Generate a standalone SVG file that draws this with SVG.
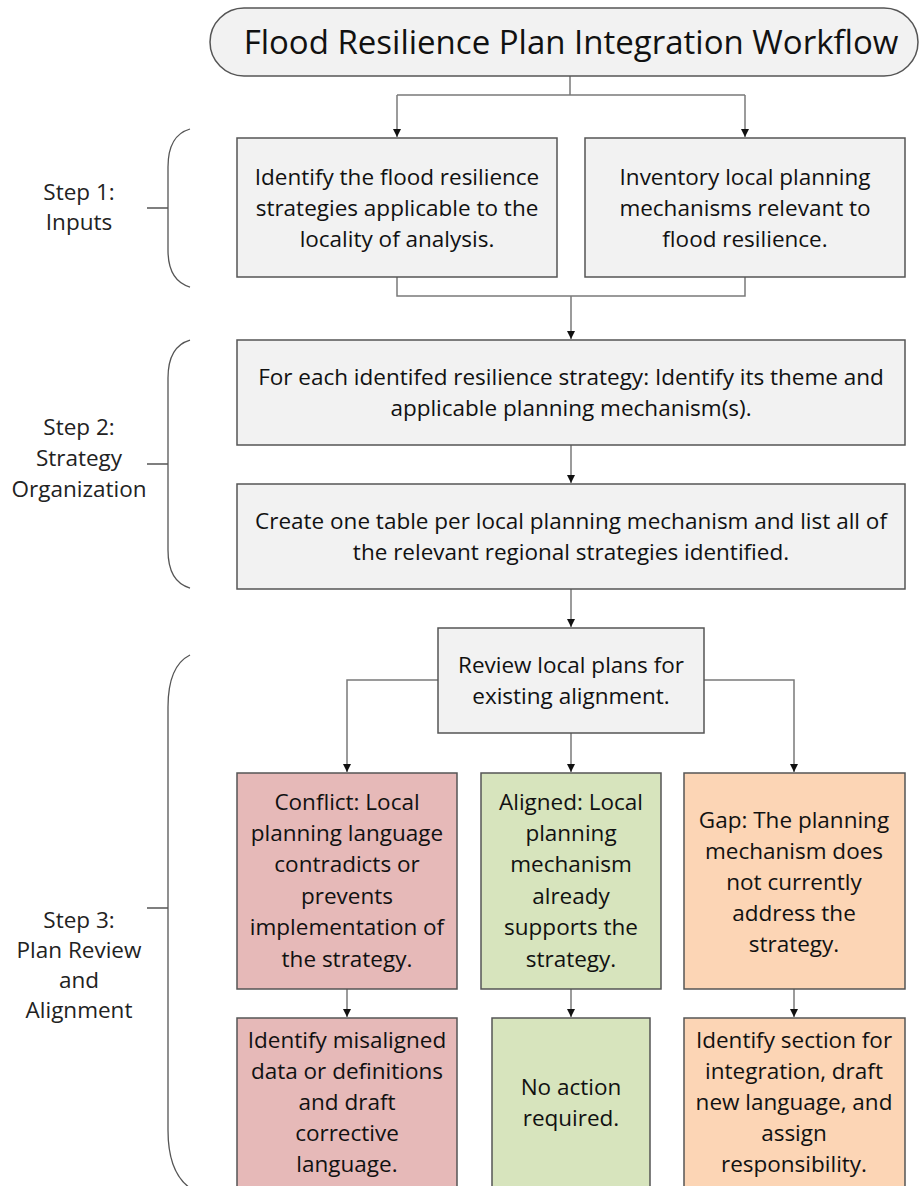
<svg xmlns="http://www.w3.org/2000/svg" width="919" height="1186" viewBox="0 0 919 1186">
<style>
.box{stroke:#555555;stroke-width:1.5}
.g{fill:#f2f2f2}
.red{fill:#e6b9b8}
.green{fill:#d7e4bd}
.orange{fill:#fcd5b5}
text{font-family:"Open Sans","DejaVu Sans",sans-serif;fill:#111111;text-anchor:middle}
.t{font-size:22.5px}
.title{font-size:33px}
.step{font-size:22.5px;fill:#222222}
.con{fill:none;stroke:#7a7a7a;stroke-width:1.5}
.br{fill:none;stroke:#555555;stroke-width:1.3}
</style>
<defs>
<marker id="ah" markerUnits="userSpaceOnUse" markerWidth="9" markerHeight="9" refX="8" refY="4" orient="auto">
<path d="M0,0 L8,4 L0,8 z" fill="#111111"/>
</marker>
</defs>
<g id="connectors">
<path class="con" d="M570,76 V95 M397,95 H745"/>
<path class="con" d="M397,95 V137" marker-end="url(#ah)"/>
<path class="con" d="M745,95 V137" marker-end="url(#ah)"/>
<path class="con" d="M397,277 V296 H745 V277"/>
<path class="con" d="M571,296 V339" marker-end="url(#ah)"/>
<path class="con" d="M571,445 V483" marker-end="url(#ah)"/>
<path class="con" d="M571,589 V627" marker-end="url(#ah)"/>
<path class="con" d="M438,680 H347 V772" marker-end="url(#ah)"/>
<path class="con" d="M704,680 H794 V772" marker-end="url(#ah)"/>
<path class="con" d="M571,733 V772" marker-end="url(#ah)"/>
<path class="con" d="M347,989 V1017" marker-end="url(#ah)"/>
<path class="con" d="M571,989 V1017" marker-end="url(#ah)"/>
<path class="con" d="M794,989 V1017" marker-end="url(#ah)"/>
</g>
<g id="title">
<rect class="box g" x="210" y="8" width="708" height="68" rx="34"/>
<text class="title" x="571" y="54">Flood Resilience Plan Integration Workflow</text>
</g>
<g id="step1">
<path class="br" d="M190,129 C176,133 168,145 168,167 V250 C168,272 176,283 190,287 M147,208 H168"/>
<text class="step" x="79" y="200">Step 1:</text>
<text class="step" x="79" y="230">Inputs</text>
</g>
<g id="step2">
<path class="br" d="M190,340 C176,344 168,356 168,378 V550 C168,572 176,584 190,588 M147,464 H168"/>
<text class="step" x="79" y="435">Step 2:</text>
<text class="step" x="79" y="466">Strategy</text>
<text class="step" x="79" y="497">Organization</text>
</g>
<g id="step3">
<path class="br" d="M190,655 C176,662 168,680 168,707 V1130 C168,1160 176,1178 190,1188 M147,908 H168"/>
<text class="step" x="79" y="928">Step 3:</text>
<text class="step" x="79" y="958">Plan Review</text>
<text class="step" x="79" y="988">and</text>
<text class="step" x="79" y="1018">Alignment</text>
</g>
<g id="identify">
<rect class="box g" x="237" y="138" width="320" height="139"/>
<text class="t" x="397" y="185">Identify the flood resilience</text>
<text class="t" x="397" y="216">strategies applicable to the</text>
<text class="t" x="397" y="247">locality of analysis.</text>
</g>
<g id="inventory">
<rect class="box g" x="585" y="138" width="320" height="139"/>
<text class="t" x="745" y="185">Inventory local planning</text>
<text class="t" x="745" y="216">mechanisms relevant to</text>
<text class="t" x="745" y="247">flood resilience.</text>
</g>
<g id="theme">
<rect class="box g" x="237" y="340" width="668" height="105"/>
<text class="t" x="571" y="385">For each identifed resilience strategy: Identify its theme and</text>
<text class="t" x="571" y="416">applicable planning mechanism(s).</text>
</g>
<g id="table">
<rect class="box g" x="237" y="484" width="668" height="105"/>
<text class="t" x="571" y="529">Create one table per local planning mechanism and list all of</text>
<text class="t" x="571" y="560">the relevant regional strategies identified.</text>
</g>
<g id="review">
<rect class="box g" x="438" y="628" width="266" height="105"/>
<text class="t" x="571" y="673">Review local plans for</text>
<text class="t" x="571" y="704">existing alignment.</text>
</g>
<g id="conflict">
<rect class="box red" x="237" y="773" width="220" height="216"/>
<text class="t" x="347" y="810">Conflict: Local</text>
<text class="t" x="347" y="841">planning language</text>
<text class="t" x="347" y="872">contradicts or</text>
<text class="t" x="347" y="904">prevents</text>
<text class="t" x="347" y="935">implementation of</text>
<text class="t" x="347" y="967">the strategy.</text>
</g>
<g id="aligned">
<rect class="box green" x="481" y="773" width="180" height="216"/>
<text class="t" x="571" y="810">Aligned: Local</text>
<text class="t" x="571" y="841">planning</text>
<text class="t" x="571" y="872">mechanism</text>
<text class="t" x="571" y="904">already</text>
<text class="t" x="571" y="935">supports the</text>
<text class="t" x="571" y="967">strategy.</text>
</g>
<g id="gap">
<rect class="box orange" x="684" y="773" width="221" height="216"/>
<text class="t" x="794" y="828">Gap: The planning</text>
<text class="t" x="794" y="859">mechanism does</text>
<text class="t" x="794" y="890">not currently</text>
<text class="t" x="794" y="921">address the</text>
<text class="t" x="794" y="952">strategy.</text>
</g>
<g id="corrective">
<rect class="box red" x="237" y="1018" width="220" height="175"/>
<text class="t" x="347" y="1048">Identify misaligned</text>
<text class="t" x="347" y="1079">data or definitions</text>
<text class="t" x="347" y="1110">and draft</text>
<text class="t" x="347" y="1141">corrective</text>
<text class="t" x="347" y="1172">language.</text>
</g>
<g id="noaction">
<rect class="box green" x="492" y="1018" width="158" height="175"/>
<text class="t" x="571" y="1095">No action</text>
<text class="t" x="571" y="1126">required.</text>
</g>
<g id="integrate">
<rect class="box orange" x="684" y="1018" width="221" height="175"/>
<text class="t" x="794" y="1048">Identify section for</text>
<text class="t" x="794" y="1079">integration, draft</text>
<text class="t" x="794" y="1110">new language, and</text>
<text class="t" x="794" y="1141">assign</text>
<text class="t" x="794" y="1172">responsibility.</text>
</g>
</svg>
